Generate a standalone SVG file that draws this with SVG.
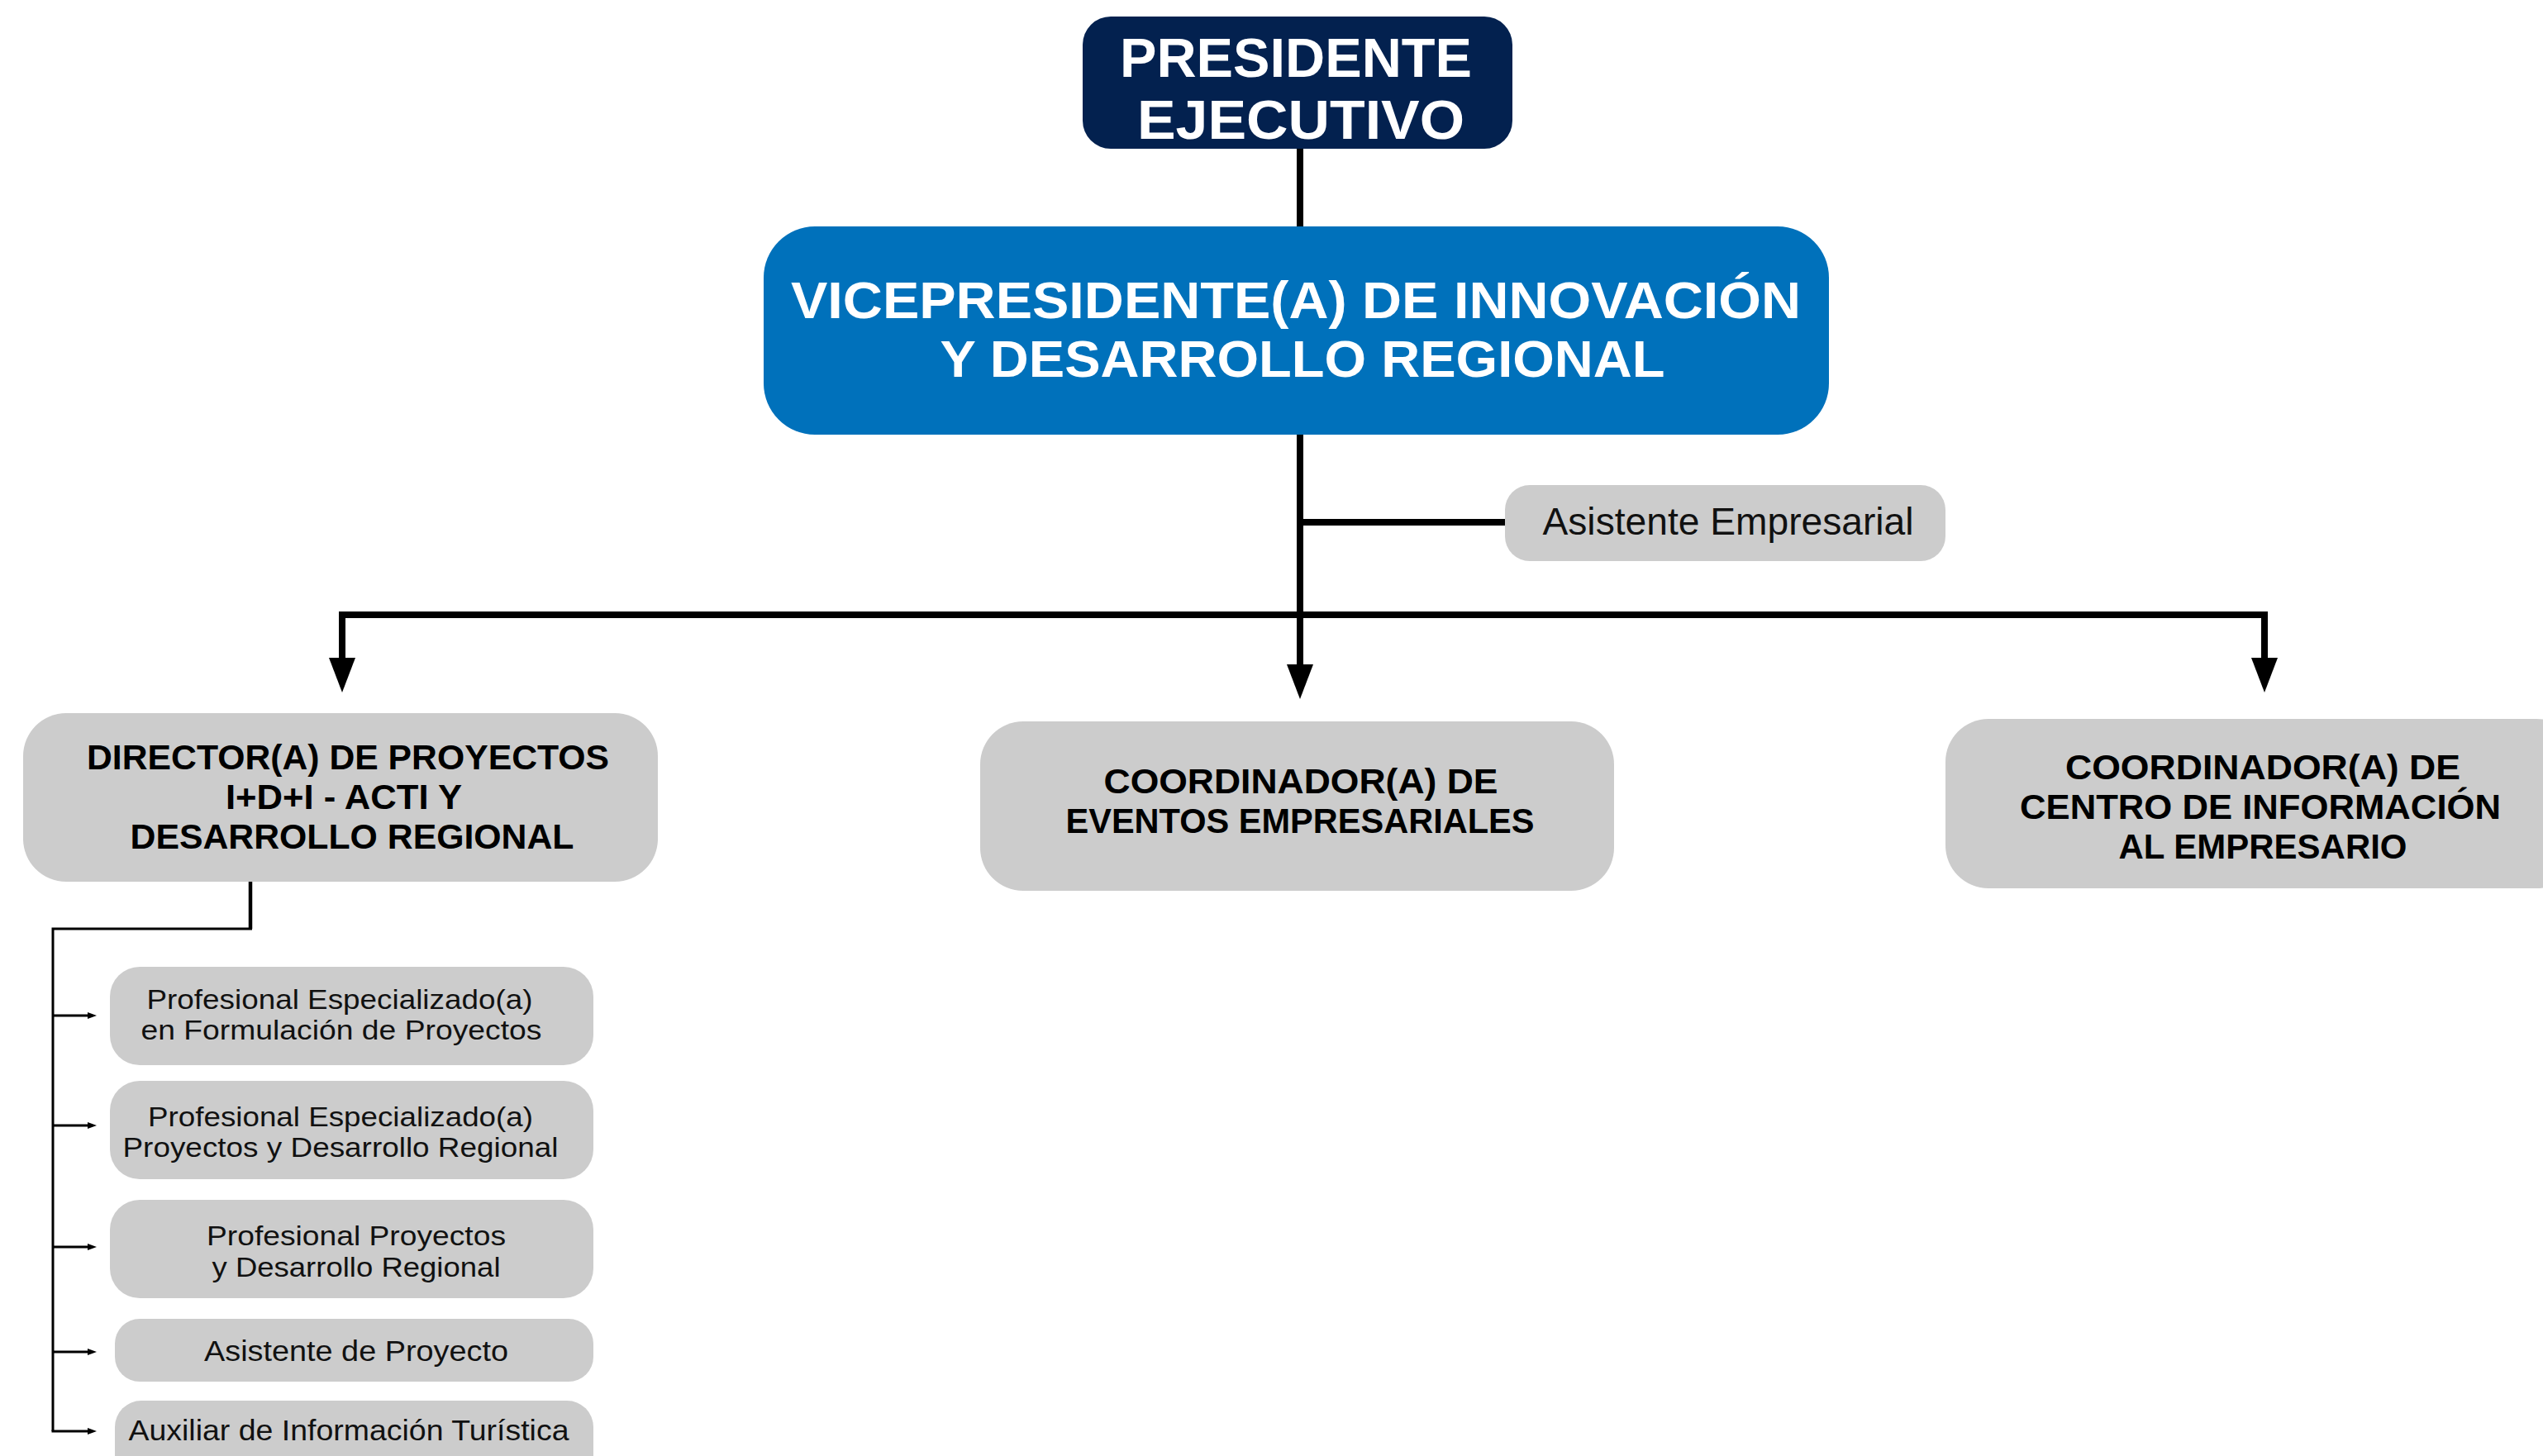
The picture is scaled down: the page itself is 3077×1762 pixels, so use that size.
<svg xmlns="http://www.w3.org/2000/svg" width="3077" height="1762" viewBox="0 0 3077 1762">
<style>
.b{font-family:"Liberation Sans",Arial,sans-serif;font-weight:700;text-anchor:middle}
.r{font-family:"Liberation Sans",Arial,sans-serif;font-weight:400;text-anchor:middle;fill:#111}
.w{fill:#fff}
.k{fill:#000}
.g{fill:#cccccc}
.ln{fill:none;stroke:#000;stroke-width:8}
.th{fill:none;stroke:#000;stroke-width:3}
</style>
<defs>
<marker id="big" markerUnits="userSpaceOnUse" markerWidth="42" markerHeight="32" refX="0" refY="16" orient="auto" viewBox="0 0 42 32">
<path d="M0,0 L42,16 L0,32 z" fill="#000"/>
</marker>
<marker id="sm" markerUnits="userSpaceOnUse" markerWidth="11" markerHeight="8" refX="0" refY="4" orient="auto" viewBox="0 0 11 8">
<path d="M0,0 L11,4 L0,8 z" fill="#000"/>
</marker>
</defs>
<rect width="3077" height="1762" fill="#fff"/>
<g id="connectors">
<path class="ln" d="M1573,180 V276"/>
<path class="ln" d="M1573,526 V804" marker-end="url(#big)"/>
<path class="ln" d="M1573,632 H1822"/>
<path class="ln" d="M414,795 V744 H2740 V795"/>
<path class="ln" d="M414,790 V796" marker-end="url(#big)"/>
<path class="ln" d="M2740,790 V796" marker-end="url(#big)"/>
<path fill="none" stroke="#000" stroke-width="4.5" d="M303,1066 V1124"/>
<path class="th" d="M305,1124 H64 V1732"/>
<path class="th" d="M64,1229 H106" marker-end="url(#sm)"/>
<path class="th" d="M64,1362 H106" marker-end="url(#sm)"/>
<path class="th" d="M64,1509 H106" marker-end="url(#sm)"/>
<path class="th" d="M64,1636 H106" marker-end="url(#sm)"/>
<path class="th" d="M62.5,1732 H106" marker-end="url(#sm)"/>
</g>
<g id="presidente">
<rect x="1310" y="20" width="520" height="160" rx="34" fill="#03214f"/>
<text class="b w" font-size="66"><tspan x="1568" y="93" textLength="426" lengthAdjust="spacingAndGlyphs">PRESIDENTE</tspan><tspan x="1574" y="168" textLength="396" lengthAdjust="spacingAndGlyphs">EJECUTIVO</tspan></text>
</g>
<g id="vicepresidente">
<rect x="924" y="274" width="1289" height="252" rx="62" fill="#0071bb"/>
<text class="b w" font-size="63"><tspan x="1568" y="385" textLength="1222" lengthAdjust="spacingAndGlyphs">VICEPRESIDENTE(A) DE INNOVACIÓN</tspan><tspan x="1576" y="456" textLength="877" lengthAdjust="spacingAndGlyphs">Y DESARROLLO REGIONAL</tspan></text>
</g>
<g id="asistente-empresarial">
<rect class="g" x="1821" y="587" width="533" height="92" rx="30"/>
<text class="r" font-size="46" x="2091" y="647" textLength="449" lengthAdjust="spacingAndGlyphs">Asistente Empresarial</text>
</g>
<g id="director">
<rect class="g" x="28" y="863" width="768" height="204" rx="52"/>
<text class="b k" font-size="42"><tspan x="421" y="931" textLength="632" lengthAdjust="spacingAndGlyphs">DIRECTOR(A) DE PROYECTOS</tspan><tspan x="416" y="979" textLength="286" lengthAdjust="spacingAndGlyphs">I+D+I - ACTI Y</tspan><tspan x="426" y="1027" textLength="537" lengthAdjust="spacingAndGlyphs">DESARROLLO REGIONAL</tspan></text>
</g>
<g id="coordinador-eventos">
<rect class="g" x="1186" y="873" width="767" height="205" rx="52"/>
<text class="b k" font-size="42"><tspan x="1574" y="960" textLength="477" lengthAdjust="spacingAndGlyphs">COORDINADOR(A) DE</tspan><tspan x="1573" y="1008" textLength="567" lengthAdjust="spacingAndGlyphs">EVENTOS EMPRESARIALES</tspan></text>
</g>
<g id="coordinador-centro">
<rect class="g" x="2354" y="870" width="767" height="205" rx="52"/>
<text class="b k" font-size="42"><tspan x="2738" y="943" textLength="478" lengthAdjust="spacingAndGlyphs">COORDINADOR(A) DE</tspan><tspan x="2735" y="991" textLength="582" lengthAdjust="spacingAndGlyphs">CENTRO DE INFORMACIÓN</tspan><tspan x="2738" y="1039" textLength="349" lengthAdjust="spacingAndGlyphs">AL EMPRESARIO</tspan></text>
</g>
<g id="prof-formulacion">
<rect class="g" x="133" y="1170" width="585" height="119" rx="36"/>
<text class="r" font-size="33"><tspan x="411" y="1221" textLength="467" lengthAdjust="spacingAndGlyphs">Profesional Especializado(a)</tspan><tspan x="413" y="1258" textLength="485" lengthAdjust="spacingAndGlyphs">en Formulación de Proyectos</tspan></text>
</g>
<g id="prof-especializado-proyectos">
<rect class="g" x="133" y="1308" width="585" height="119" rx="36"/>
<text class="r" font-size="33"><tspan x="412" y="1363" textLength="466" lengthAdjust="spacingAndGlyphs">Profesional Especializado(a)</tspan><tspan x="412" y="1400" textLength="527" lengthAdjust="spacingAndGlyphs">Proyectos y Desarrollo Regional</tspan></text>
</g>
<g id="prof-proyectos">
<rect class="g" x="133" y="1452" width="585" height="119" rx="36"/>
<text class="r" font-size="33"><tspan x="431" y="1507" textLength="362" lengthAdjust="spacingAndGlyphs">Profesional Proyectos</tspan><tspan x="431" y="1545" textLength="349" lengthAdjust="spacingAndGlyphs">y Desarrollo Regional</tspan></text>
</g>
<g id="asistente-proyecto">
<rect class="g" x="139" y="1596" width="579" height="76" rx="30"/>
<text class="r" font-size="35" x="431" y="1647" textLength="368" lengthAdjust="spacingAndGlyphs">Asistente de Proyecto</text>
</g>
<g id="auxiliar-turistica">
<rect class="g" x="139" y="1695" width="579" height="100" rx="32"/>
<text class="r" font-size="35" x="422" y="1743" textLength="533" lengthAdjust="spacingAndGlyphs">Auxiliar de Información Turística</text>
</g>
</svg>
